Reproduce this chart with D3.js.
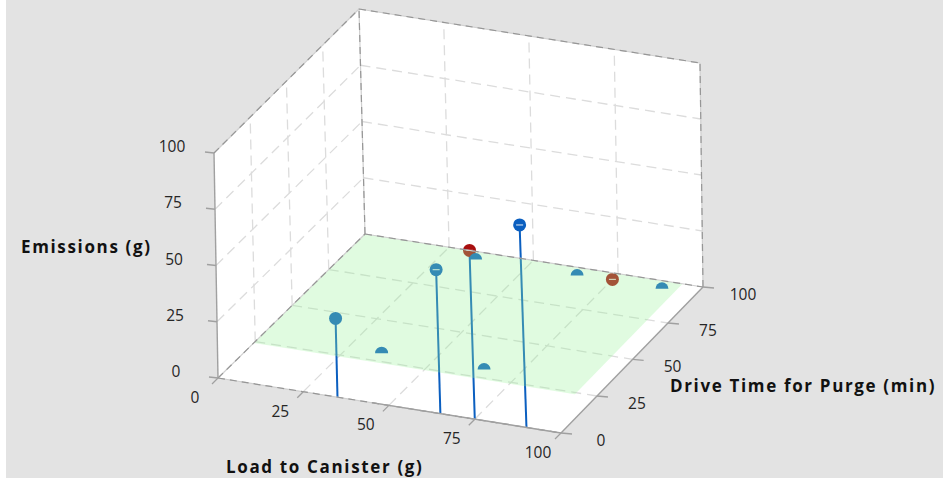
<!DOCTYPE html>
<html><head><meta charset="utf-8"><style>html,body{margin:0;padding:0;background:#e3e3e3}svg{display:block}text{font-family:"Open Sans",sans-serif}</style></head>
<body><svg id="c" width="943" height="478"></svg>
<script src="https://cdn.jsdelivr.net/npm/d3@7/dist/d3.min.js"></script>
<script>
// ---- data ----
const tickValues=[0,25,50,75,100];
const gridValues=[25,50,75];
const loads    =[35,65,75,90,35,65,35,65,90,75];
const drives   =[ 0, 0, 0, 0,30,30,95,95,95,96];
const emissions=[35,64,75,90, 0, 0, 0, 0, 0, 0];
const groups   =["in","in","out","in","in","in","in","in","in","out"];
const isDome   =[false,false,false,false,true,true,true,true,true,false];
const hasDash  =[false,true,true,true,false,false,false,false,false,true];
const hasStem  =[true,true,true,true,false,false,false,false,false,false];
const planeLoad=[0,94];
const planeDrive=[24,100];
const titles={z:"Emissions (g)",x:"Load to Canister (g)",y:"Drive Time for Purge (min)"};

// ---- projection: three linear scales on the unit cube, then a perspective map ----
const sx=d3.scaleLinear().domain([0,100]).range([0,1]);
const sy=d3.scaleLinear().domain([0,100]).range([0,1]);
const sz=d3.scaleLinear().domain([0,100]).range([0,1]);
function hom(d){const s=[[0,0],[1,0],[1,1],[0,1]],A=[];
 for(let i=0;i<4;i++){const [x,y]=s[i],[u,v]=d[i];A.push([x,y,1,0,0,0,-u*x,-u*y,u]);A.push([0,0,0,x,y,1,-v*x,-v*y,v]);}
 for(let i=0;i<8;i++){let p=i;for(let r=i;r<8;r++)if(Math.abs(A[r][i])>Math.abs(A[p][i]))p=r;[A[i],A[p]]=[A[p],A[i]];
  for(let r=0;r<8;r++)if(r!=i){const f=A[r][i]/A[i][i];for(let c=i;c<9;c++)A[r][c]-=f*A[i][c];}}
 const h=A.map((r,i)=>r[8]/r[i]);
 return (x,y)=>{const w=h[6]*x+h[7]*y+1;return[(h[0]*x+h[1]*y+h[2])/w,(h[3]*x+h[4]*y+h[5])/w];};}
const floorMap=hom([[218,378],[561,433],[703,287],[365,234]]);
const topMap=hom([[214,153],[553,208],[700,63],[359,9]]);
function P(l,d,z){const a=floorMap(sx(l),sy(d)),b=topMap(sx(l),sy(d)),t=sz(z);return[a[0]+(b[0]-a[0])*t,a[1]+(b[1]-a[1])*t];}

const svg=d3.select("#c");
svg.append("rect").attr("width",943).attr("height",478).attr("fill","#e3e3e3");
svg.append("rect").attr("width",6).attr("height",478).attr("fill","#ffffff");
const line=d3.line();
const poly=pts=>line(pts)+"Z";

// walls and floor
const panels=[[[0,0,0],[0,100,0],[0,100,100],[0,0,100]],[[0,100,0],[100,100,0],[100,100,100],[0,100,100]],[[0,0,0],[100,0,0],[100,100,0],[0,100,0]]];
svg.append("g").selectAll("path").data(panels).join("path").attr("d",p=>poly(p.map(q=>P(...q)))).attr("fill","#fff");

// grid
const gridSegs=[];
gridValues.forEach(v=>{
 gridSegs.push([[v,0,0],[v,100,0]],[[0,v,0],[100,v,0]]);
 gridSegs.push([[0,v,0],[0,v,100]],[[0,0,v],[0,100,v]]);
 gridSegs.push([[v,100,0],[v,100,100]],[[0,100,v],[100,100,v]]);
});
const segPath=s=>line(s.map(q=>P(...q)));
svg.append("g").attr("fill","none").attr("stroke","#dcdcdc").attr("stroke-width",1.3).attr("stroke-dasharray","10 6")
 .selectAll("path").data(gridSegs).join("path").attr("d",segPath);

// stems and marks (the plane is laid over them)
const idx=d3.range(loads.length);
const colour={in:"#0b5fc0",out:"#a80f0f"};
svg.append("g").attr("stroke",colour.in).attr("stroke-width",2).selectAll("line").data(idx.filter(i=>hasStem[i])).join("line")
 .attr("x1",i=>P(loads[i],drives[i],0)[0]).attr("y1",i=>P(loads[i],drives[i],0)[1])
 .attr("x2",i=>P(loads[i],drives[i],emissions[i])[0]).attr("y2",i=>P(loads[i],drives[i],emissions[i])[1]);
const dome=d3.arc()({innerRadius:0,outerRadius:6.5,startAngle:-Math.PI/2,endAngle:Math.PI/2});
const circ=d3.arc()({innerRadius:0,outerRadius:6.5,startAngle:0,endAngle:2*Math.PI});
svg.append("g").selectAll("path").data(idx).join("path")
 .attr("transform",i=>`translate(${P(loads[i],drives[i],emissions[i])})`)
 .attr("d",i=>isDome[i]?dome:circ).attr("fill",i=>colour[groups[i]]);
svg.append("g").attr("stroke","#fff").attr("stroke-opacity",.75).attr("stroke-width",1.2).selectAll("line").data(idx.filter(i=>hasDash[i])).join("line")
 .attr("transform",i=>`translate(${P(loads[i],drives[i],emissions[i])})`).attr("x1",-3.5).attr("x2",3.5);

// plane
svg.append("path").attr("d",poly([[planeLoad[0],planeDrive[0]],[planeLoad[1],planeDrive[0]],[planeLoad[1],planeDrive[1]],[planeLoad[0],planeDrive[1]]].map(q=>P(q[0],q[1],0))))
 .attr("fill","rgb(151,241,151)").attr("fill-opacity",.3);

// frame: dashed edges
const dashed=[[[0,100,0],[0,100,100]],[[0,0,100],[0,100,100]],[[0,100,100],[100,100,100]],[[100,100,0],[100,100,100]],[[0,100,0],[100,100,0]],[[0,0,0],[0,100,0]],[[0,0,0],[100,0,0]]];
svg.append("g").attr("fill","none").attr("stroke","#d0d0d0").attr("stroke-width",1.2).selectAll("path").data(dashed).join("path").attr("d",segPath);
svg.append("g").attr("fill","none").attr("stroke","#969696").attr("stroke-width",1.2).attr("stroke-dasharray","7 5").selectAll("path").data(dashed).join("path").attr("d",segPath);
const solid=[[[0,0,0],[0,0,100]],[[100,0,0],[100,100,0]],[[45,0,0],[100,0,0]]];
svg.append("g").attr("fill","none").attr("stroke","#a0a0a0").attr("stroke-width",1.4).selectAll("path").data(solid).join("path").attr("d",segPath);

// ticks and labels
const ticks=svg.append("g").attr("stroke","#a0a0a0").attr("stroke-width",1.3);
const labels=svg.append("g").attr("fill","#262626").attr("font-size",15.5).attr("text-anchor","middle").attr("dominant-baseline","central");
function addTicks(pos,dx,dy,lx,ly){tickValues.forEach(v=>{const [x,y]=pos(v);
 ticks.append("line").attr("x1",x).attr("y1",y).attr("x2",x+dx).attr("y2",y+dy);
 labels.append("text").attr("x",x+lx).attr("y",y+ly).text(v);});}
addTicks(v=>P(0,0,v),-9,-1,-42,-7);
addTicks(v=>P(v,0,0),-6,6,-23,19);
addTicks(v=>P(100,v,0),11,1,40,7);

// titles
const tg=svg.append("g").attr("fill","#111").attr("font-weight",700).attr("font-size",17).attr("letter-spacing",1.65).attr("dominant-baseline","central");
tg.append("text").attr("x",21).attr("y",246).text(titles.z);
tg.append("text").attr("x",226).attr("y",466).text(titles.x);
tg.append("text").attr("x",670).attr("y",385).text(titles.y);
</script></body></html>
